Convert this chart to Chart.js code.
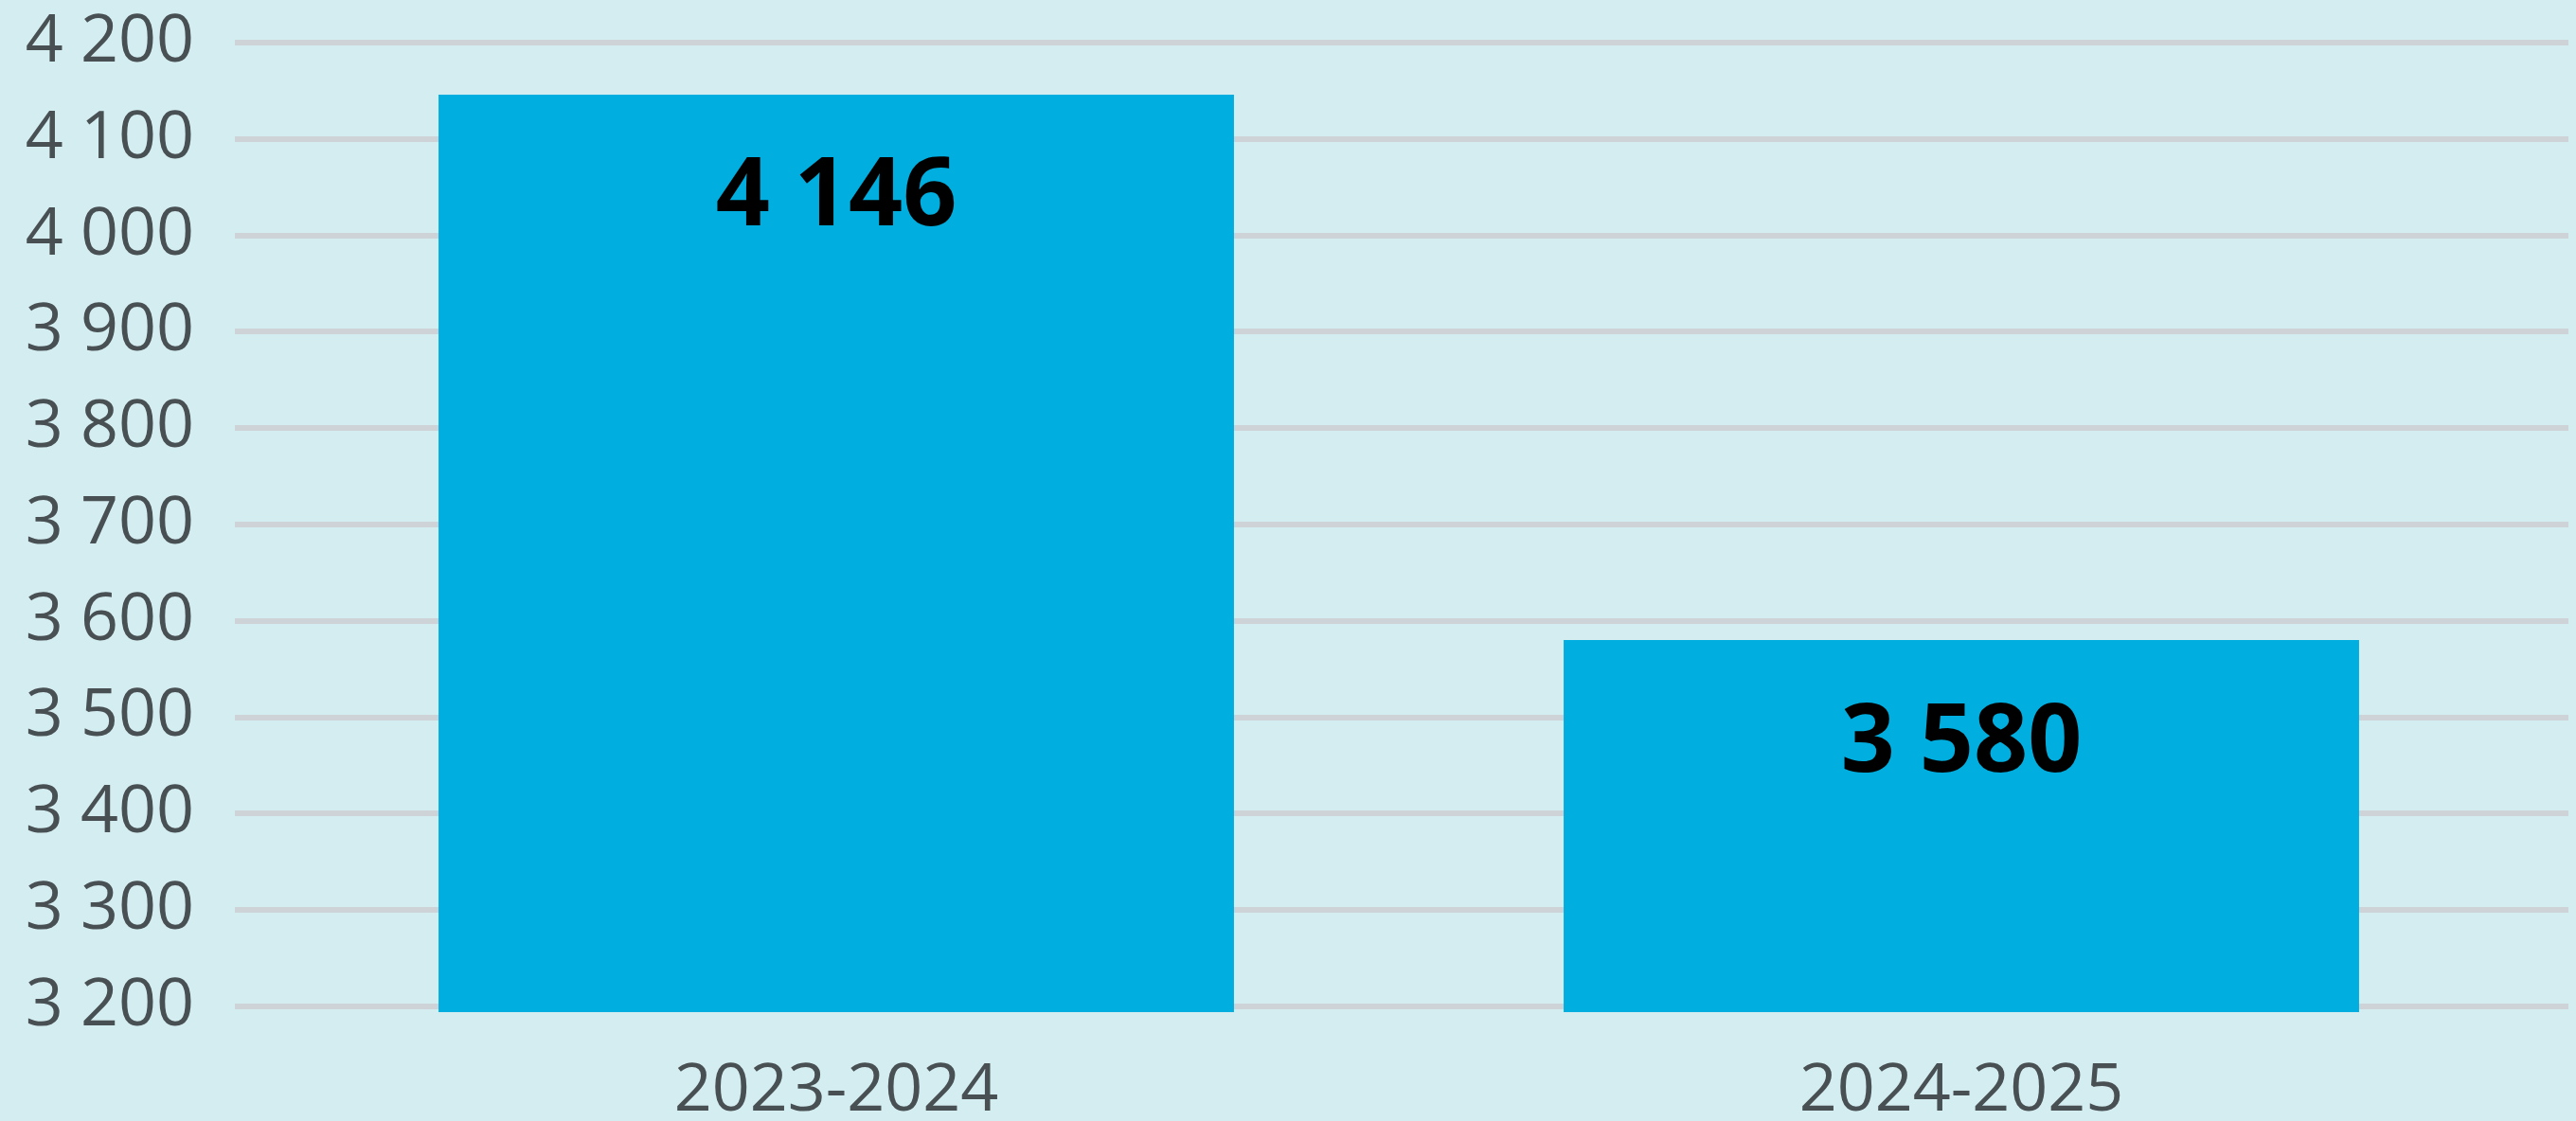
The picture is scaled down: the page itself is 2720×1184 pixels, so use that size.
<!DOCTYPE html>
<html>
<head>
<meta charset="utf-8">
<script src="https://cdn.jsdelivr.net/npm/chart.js@4.4.1/dist/chart.umd.min.js"></script>
<style>
    html, body { margin: 0; padding: 0; background: #d4edf1; }
    #contenedor { width: 2720px; height: 1184px; position: relative; }
</style>
</head>
<body>
<div id="contenedor"><canvas id="grafico"></canvas></div>
<script>
const categorias = ['2023-2024', '2024-2025'];
const valores = [4146, 3580];
const marcasY = [3200, 3300, 3400, 3500, 3600, 3700, 3800, 3900, 4000, 4100, 4200];
const minY = 3194;
const maxY = 4200;

const colorBarra = '#00afdf';
const colorTexto = '#485053';
const colorRejilla = '#cdd3d6';

// "4146" -> "4 146"
const formatoMiles = (v) => String(v).replace(/\B(?=(\d{3})+(?!\d))/g, ' ');

// Líneas de la rejilla, un poco más largas que el área del gráfico
const rejillaPlugin = {
    id: 'rejilla',
    beforeDatasetsDraw: (chart) => {
        const ctx = chart.ctx;
        const y = chart.scales.y;
        ctx.save();
        ctx.strokeStyle = colorRejilla;
        ctx.lineWidth = 6;
        marcasY.forEach(v => {
            const py = Math.round(y.getPixelForValue(v));
            ctx.beginPath();
            ctx.moveTo(248, py);
            ctx.lineTo(2712, py);
            ctx.stroke();
        });
        ctx.restore();
    }
};

// Etiquetas de valor dentro de las barras
const etiquetasPlugin = {
    id: 'etiquetas',
    afterDatasetsDraw: (chart) => {
        const ctx = chart.ctx;
        const meta = chart.getDatasetMeta(0);
        ctx.save();
        ctx.fillStyle = '#000000';
        ctx.font = 'bold 100px "Open Sans"';
        ctx.textAlign = 'center';
        ctx.textBaseline = 'middle';
        meta.data.forEach((bar, i) => {
            ctx.fillText(formatoMiles(valores[i]), bar.x, bar.y + 110);
        });
        ctx.restore();
    }
};

new Chart(document.getElementById('grafico').getContext('2d'), {
    type: 'bar',
    data: {
        labels: categorias,
        datasets: [{
            data: valores,
            backgroundColor: colorBarra,
            borderWidth: 0,
            barPercentage: 0.707,
            categoryPercentage: 1
        }]
    },
    options: {
        responsive: true,
        maintainAspectRatio: false,
        animation: false,
        layout: { padding: { top: 45, right: 55, left: 0, bottom: 0 } },
        plugins: {
            legend: { display: false },
            tooltip: { enabled: false }
        },
        scales: {
            x: {
                grid: { display: false },
                border: { display: false },
                ticks: {
                    color: colorTexto,
                    font: { family: 'Open Sans', size: 70 },
                    padding: 34,
                    maxRotation: 0
                },
                afterFit: (scale) => { scale.height = 115; }
            },
            y: {
                min: minY,
                max: maxY,
                grid: { display: false, drawTicks: false },
                border: { display: false },
                afterBuildTicks: (scale) => { scale.ticks = marcasY.map(v => ({ value: v })); },
                ticks: {
                    color: colorTexto,
                    font: { family: 'Open Sans', size: 70 },
                    padding: 84,
                    callback: (v) => formatoMiles(v)
                },
                afterFit: (scale) => {
                    scale.width = 289;
                    scale.paddingTop = 0;
                    scale.paddingBottom = 0;
                }
            }
        }
    },
    plugins: [rejillaPlugin, etiquetasPlugin]
});
</script>
</body>
</html>
